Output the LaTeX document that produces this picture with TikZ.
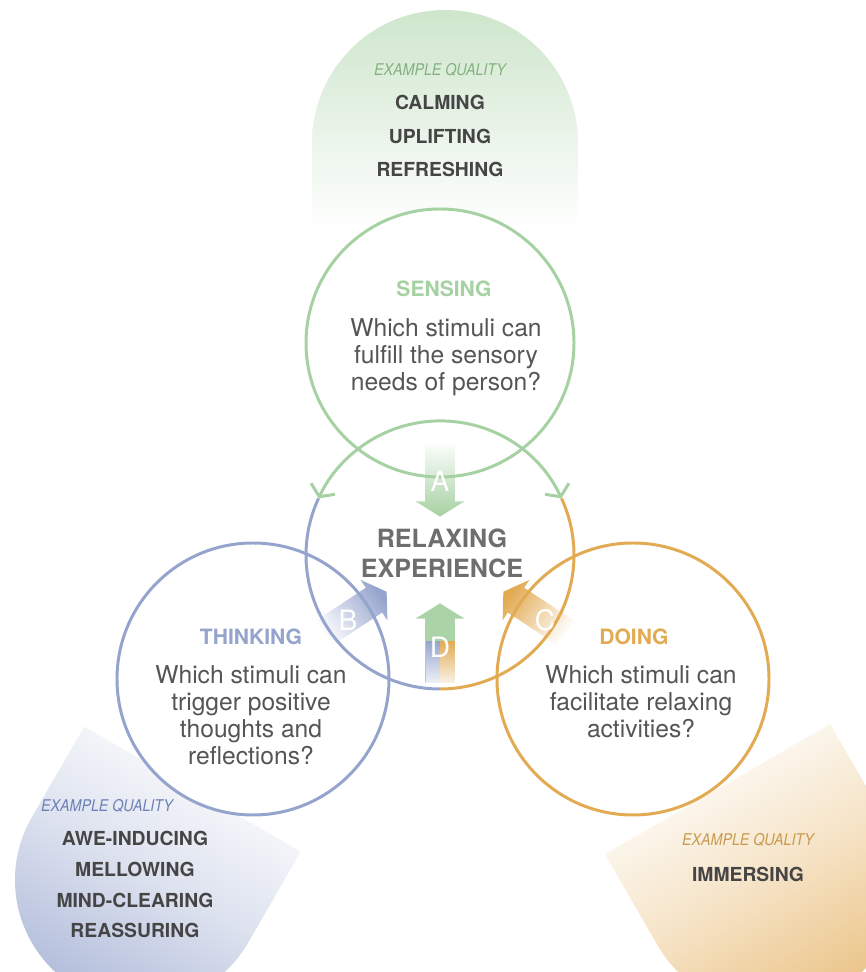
\documentclass[tikz,border=0pt]{standalone}
\usepackage[usenames,dvipsnames]{xcolor}
\usepackage{tikz}
\usepackage{fontspec}
\setmainfont{TeX Gyre Heros}
\newfontfamily\narrowfont[FakeStretch=0.88]{TeX Gyre Heros}
\usetikzlibrary{calc}
\usetikzlibrary{fadings}
\usetikzlibrary{arrows.meta}
\usetikzlibrary{shapes.arrows}

\definecolor{grn}{HTML}{A6D1A2}
\definecolor{blu}{HTML}{95A4CD}
\definecolor{org}{HTML}{E2AA52}
\definecolor{txt}{HTML}{555555}
\definecolor{qual}{HTML}{454545}
\definecolor{relaxgray}{HTML}{6E6E6E}
\definecolor{grnq}{HTML}{82B27F}
\definecolor{bluq}{HTML}{6D80B6}
\definecolor{orgq}{HTML}{C99A4E}

\tikzfading[name=fadetail, left color=transparent!100, right color=transparent!0]
\tikzfading[name=fadedown, top color=transparent!0, bottom color=transparent!85]

\tikzset{
  ring/.style={circle, fill=white, outer sep=0pt, inner sep=0pt, minimum size=5.36cm},
  bigarrow/.style={single arrow, inner xsep=0pt, inner ysep=0.29cm, single arrow head extend=0.19cm, single arrow tip angle=116, minimum height=1.5cm},
  letter/.style={text=white, font=\fontsize{16}{16}\selectfont},
  question/.style={text=txt, align=center, font=\fontsize{14}{15.4}\selectfont},
  heading/.style={font=\fontsize{12}{12}\selectfont\bfseries},
  example/.style={font=\narrowfont\fontsize{9.2}{9.2}\selectfont\itshape},
  qualities/.style={text=qual, align=center, font=\fontsize{11}{18.8}\selectfont\bfseries},
}

\begin{document}
\begin{tikzpicture}

\useasboundingbox (-8.8,-8.34) rectangle (8.5,11.1);

\shade[top color=grn!55!white, bottom color=white] (-2.56,6.5) -- (-2.56,8.24) arc[start angle=180, end angle=0, radius=2.66] -- (2.76,6.5) -- cycle;
\begin{scope}[shift={(-6.0,-6.5)}, rotate=150]
\shade[top color=blu!75!white, bottom color=white, middle color=blu!32!white, shading angle=150] (-2.5,-2.1) -- (-2.5,0) arc[start angle=180, end angle=0, radius=2.5] -- (2.5,-2.1) -- cycle;
\end{scope}
\begin{scope}[shift={(6.6,-6.5)}, rotate=-150]
\shade[top color=org!72!white, bottom color=white, middle color=org!32!white, shading angle=210] (-2.6,-2.1) -- (-2.6,0) arc[start angle=180, end angle=0, radius=2.6] -- (2.6,-2.1) -- cycle;
\end{scope}

\node at (0,4.24)[ring] (sensing) {};
\node at (-3.74,-2.48)[ring, minimum size=5.44cm] (thinking) {};
\node at (3.86,-2.48)[ring, minimum size=5.44cm] (doing) {};
\node at (0,0)[ring] (relax) {};

\draw[grn, line width=1.7pt] (sensing.center) circle[radius=2.68];
\draw[blu, line width=1.7pt] (thinking.center) circle[radius=2.72];
\draw[org, line width=1.7pt] (doing.center) circle[radius=2.72];
\draw[blu, line width=1.7pt] (relax.155) arc[start angle=155, end angle=270, radius=2.68];
\draw[org, line width=1.7pt] (relax.270) arc[start angle=270, end angle=385, radius=2.68];
\draw[grn, line width=1.7pt, {Straight Barb[length=5pt,width=15pt]}-{Straight Barb[length=5pt,width=15pt]}] (relax.25) arc[start angle=25, end angle=155, radius=2.68];

\node at (0,1.61)[bigarrow, rotate=-90, fill=grn, path fading=fadetail, fading angle=-90] (arrA) {};
\node at (-1.77,-1.2)[bigarrow, rotate=33.5, fill=blu, path fading=fadetail, fading angle=33.5] (arrB) {};
\node at (1.97,-1.2)[bigarrow, rotate=146.5, fill=org, path fading=fadetail, fading angle=146.5] (arrC) {};
\node at (0,-1.85)[bigarrow, rotate=90, minimum height=1.58cm, fill=grn!95!white] (arrD) {};
\fill[white] ($(arrD.tail)+(-0.29,0)$) rectangle ($(arrD.tail)+(0.29,0.84)$);
\fill[blu, path fading=fadedown] ($(arrD.tail)+(-0.29,0)$) rectangle ($(arrD.tail)+(0,0.84)$);
\fill[org, path fading=fadedown] (arrD.tail) rectangle ($(arrD.tail)+(0.29,0.84)$);

\node at (0,1.48)[letter] (labA) {A};
\node at (-1.84,-1.3)[letter] (labB) {B};
\node at (2.1,-1.3)[letter] (labC) {C};
\node at (0,-1.84)[letter] (labD) {D};

\node at (0.08,5.32)[heading, text=grn] (senseHead) {SENSING};
\node at (0.12,3.96)[question] (senseText) {Which stimuli can\\fulfill the sensory\\needs of person?};
\node at (-3.78,-1.64)[heading, text=blu] (thinkHead) {THINKING};
\node at (-3.78,-3.21)[question] (thinkText) {Which stimuli can\\trigger positive\\thoughts and\\reflections?};
\node at (3.88,-1.64)[heading, text=org] (doHead) {DOING};
\node at (4.02,-2.94)[question] (doText) {Which stimuli can\\facilitate relaxing\\activities?};
\node at (0.04,0.04)[text=relaxgray, align=center, font=\fontsize{14.3}{17}\selectfont\bfseries] (relaxText) {RELAXING\\EXPERIENCE};

\node at (0,9.7)[example, text=grnq] (senseEx) {EXAMPLE QUALITY};
\node at (0,8.38)[qualities] (senseQual) {CALMING\\UPLIFTING\\REFRESHING};
\node at (-6.66,-5.02)[example, text=bluq] (thinkEx) {EXAMPLE QUALITY};
\node at (-6.1,-6.59)[qualities, font=\fontsize{11}{17.6}\selectfont\bfseries] (thinkQual) {AWE-INDUCING\\MELLOWING\\MIND-CLEARING\\REASSURING};
\node at (6.16,-5.7)[example, text=orgq] (doEx) {EXAMPLE QUALITY};
\node at (6.16,-6.38)[qualities] (doQual) {IMMERSING};

\end{tikzpicture}
\end{document}
